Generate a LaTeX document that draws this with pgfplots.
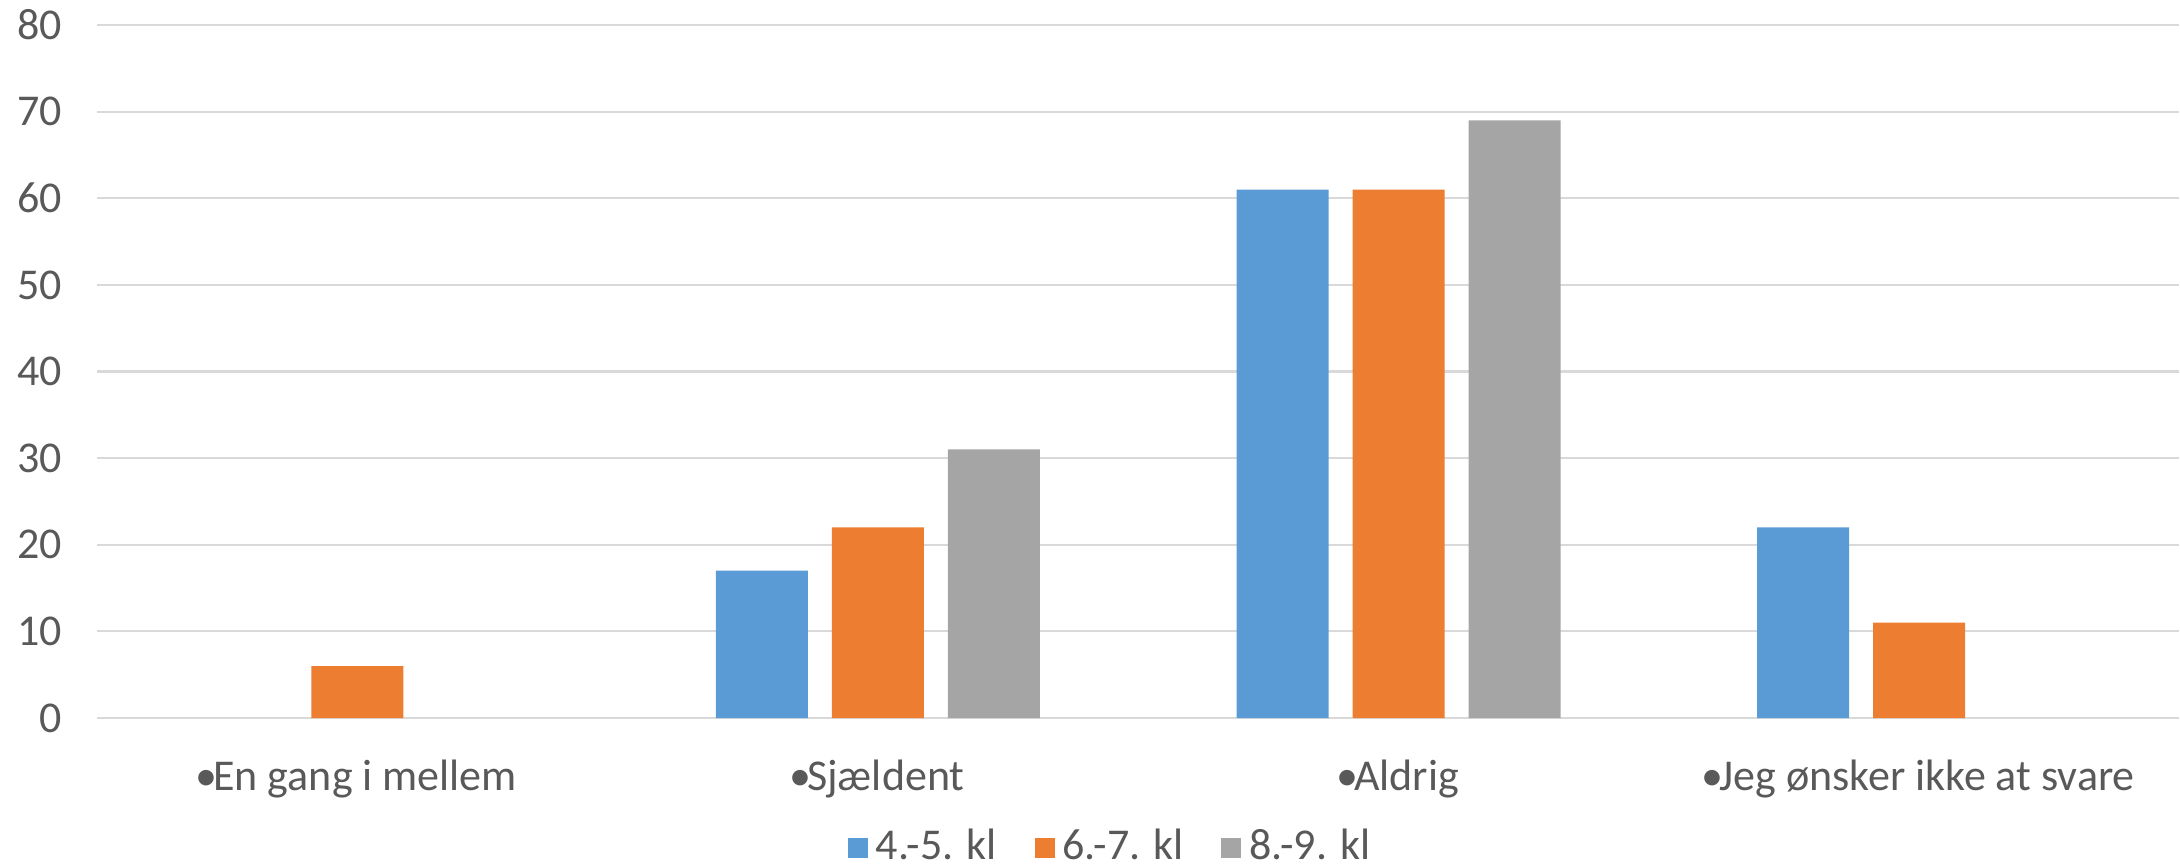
\documentclass[border=0pt]{standalone}
\usepackage{pgfplots}
\pgfplotsset{compat=1.18}
\usepackage{fontspec}
\setmainfont{Carlito}
\definecolor{cblue}{HTML}{5B9BD5}
\definecolor{corange}{HTML}{ED7D31}
\definecolor{cgray}{HTML}{A5A5A5}
\definecolor{ctext}{HTML}{595959}
\definecolor{cgrid}{HTML}{D9D9D9}
\newcommand{\bul}{\kern-0.5pt•\kern-1.0pt}
\begin{document}
\begin{tikzpicture}
\path[use as bounding box] (0,0) rectangle (545pt,216.5pt);
\begin{axis}[
  at={(24.25pt,37pt)}, anchor=south west,
  scale only axis, width=520.6pt, height=173.25pt,
  xmin=-0.5, xmax=3.5, ymin=0, ymax=80,
  ytick={0,10,...,80},
  xtick={0,1,2,3},
  xticklabels={{\bul En gang i mellem},{\bul Sjældent},{\bul Aldrig},{\bul Jeg ønsker ikke at svare}},
  axis line style={draw=none},
  major tick length=0pt,
  ymajorgrids, major grid style={color=cgrid, line width=0.55pt},
  /pgf/number format/assume math mode=true,
  tick label style={font=\fontsize{11}{13}\selectfont, text=ctext},
  yticklabel style={xshift=-5.3pt},
  xticklabel style={yshift=-7pt},
  ybar=6pt, bar width=23pt,
  legend columns=3,
  legend style={draw=none, fill=none, at={(0.488,-0.187)}, anchor=center,
    font=\fontsize{11}{13}\selectfont, text=ctext,
    /tikz/every even column/.append style={column sep=7.4pt}},
  legend image code/.code={\fill[#1] (0pt,-2.5pt) rectangle (5pt,2.5pt);},
]
\addplot[fill=cblue, draw=none] coordinates {(1,17) (2,61) (3,22)};
\addplot[fill=corange, draw=none] coordinates {(0,6) (1,22) (2,61) (3,11)};
\addplot[fill=cgray, draw=none] coordinates {(1,31) (2,69)};
\legend{4.-5. kl, 6.-7. kl, 8.-9. kl}
\end{axis}
\end{tikzpicture}
\end{document}
